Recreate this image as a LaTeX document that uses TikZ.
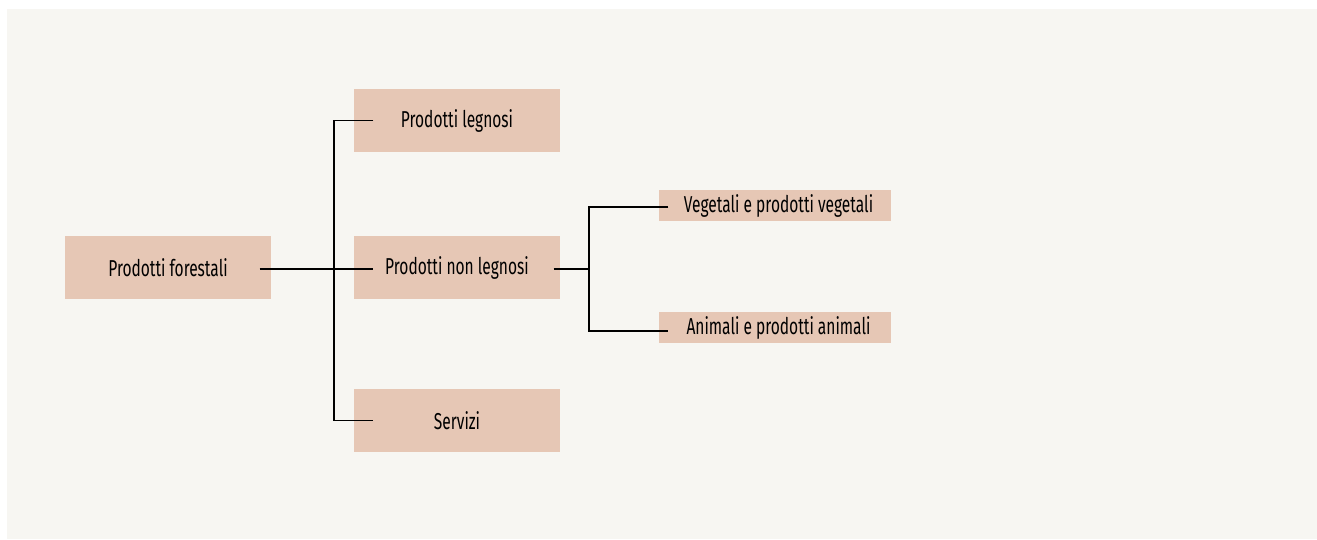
\documentclass[tikz,border=0pt]{standalone}
\usepackage{fontspec}
\setmainfont[FakeStretch=0.675]{Fira Sans}
\usepackage{tikz}

\definecolor{panel}{RGB}{247,246,242}
\definecolor{boxfill}{RGB}{230,199,181}

\begin{document}
\begin{tikzpicture}[x=1pt,y=-1pt,line width=1.2pt,
                    font=\fontsize{23}{26}\selectfont]

  \tikzstyle{every box}=[rectangle,fill=boxfill,inner sep=0pt,
                         minimum width=206pt,minimum height=63pt]
  \tikzstyle{small box}=[rectangle,fill=boxfill,inner sep=0pt,
                         minimum width=232pt,minimum height=31pt]

  \useasboundingbox[fill=white] (0,0) rectangle (1317,539);
  \fill[panel] (7,9) rectangle (1317,539);

  \node[every box] (PF)  at (168,267.5) {Prodotti forestali};
  \node[every box] (PL)  at (457,120.5) {Prodotti legnosi};
  \node[every box] (PNL) at (457,267.5) {Prodotti non legnosi};
  \node[every box] (SRV) at (457,420.5) {Servizi};
  \node[small box] (VEG) at (775,205.5) {\hspace{7pt}Vegetali e prodotti vegetali};
  \node[small box] (ANI) at (775,327.5) {\hspace{7pt}Animali e prodotti animali};

  \coordinate (J1) at (334,269);
  \coordinate (J2) at (589,269);

  \draw ([xshift=-12pt,yshift=-1.5pt]PF.east) -- ([xshift=20pt,yshift=-1.5pt]PNL.west);
  \draw ([xshift=20pt]PL.west) -| (J1) |- ([xshift=20pt]SRV.west);

  \draw ([xshift=-7pt,yshift=-1.5pt]PNL.east) -- (J2);
  \draw ([xshift=10pt,yshift=-1.5pt]VEG.west) -| (J2) |- ([xshift=10pt,yshift=-3.5pt]ANI.west);

\end{tikzpicture}
\end{document}
